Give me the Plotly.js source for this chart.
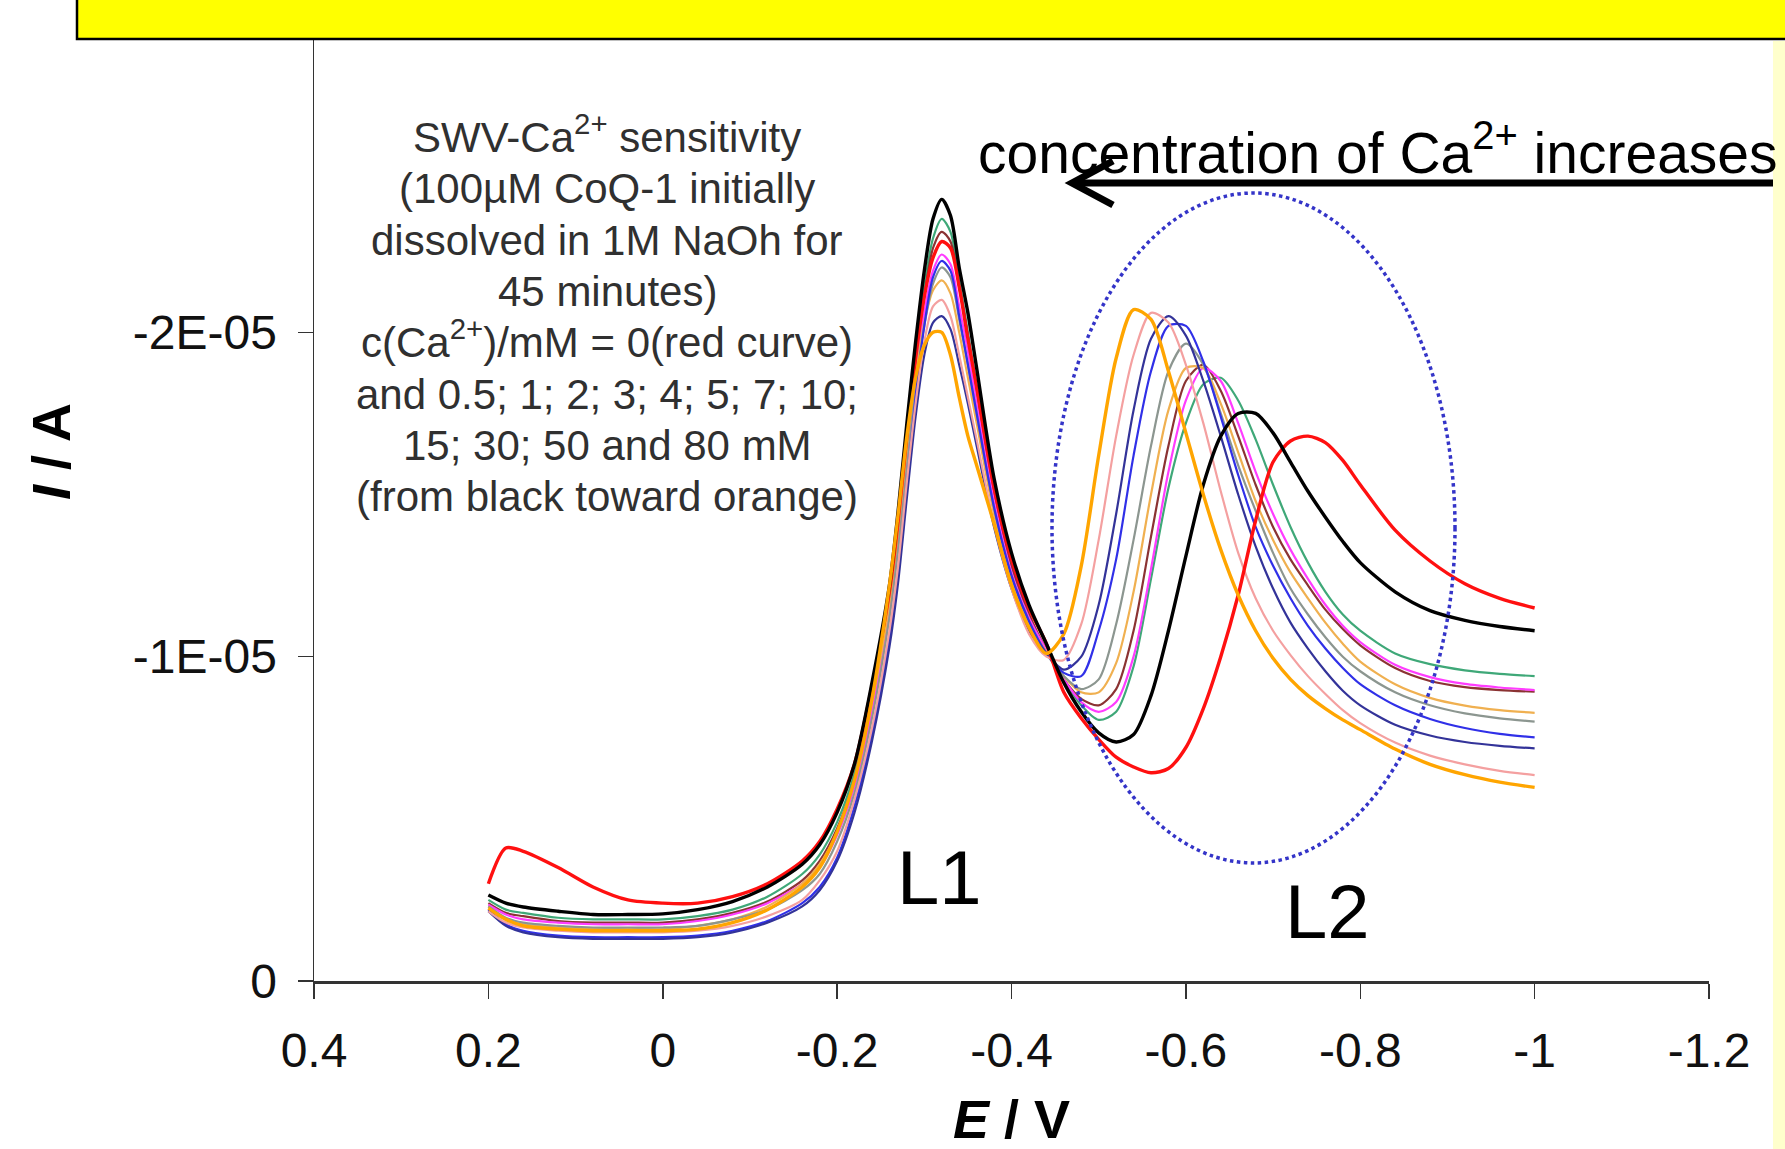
<!DOCTYPE html>
<html>
<head>
<meta charset="utf-8">
<script src="https://cdn.plot.ly/plotly-3.0.1.min.js"></script>
<style>html,body{margin:0;padding:0;background:#fff;}#chart{width:1785px;height:1149px;}</style>
</head>
<body>
<div id="chart"></div>
<script>
// ---------------- DATA (potential in V, current in units of 1E-05 A) ----------------
const potential = [0.2, 0.18, 0.16, 0.12, 0.08, 0.04, 0, -0.04, -0.08, -0.12,
  -0.16, -0.18, -0.20, -0.22, -0.24,
  -0.26, -0.27, -0.28, -0.29, -0.30, -0.31, -0.32, -0.33, -0.34, -0.35, -0.36, -0.38, -0.40, -0.42, -0.44,
  -0.46, -0.48, -0.50, -0.52, -0.54, -0.56, -0.58, -0.60, -0.62, -0.64, -0.66, -0.68, -0.70, -0.72, -0.74, -0.76, -0.78, -0.80,
  -0.84, -0.88, -0.92, -0.96, -1.0];

const currentRed = [-0.30, -0.41, -0.40, -0.35, -0.29, -0.25, -0.24, -0.24, -0.26, -0.30,
  -0.37, -0.43, -0.53, -0.67, -0.91,
  -1.20, -1.42, -1.68, -1.92, -2.11, -2.23, -2.28, -2.26, -2.14, -1.98, -1.83, -1.52, -1.30, -1.15, -1.04,
  -0.89, -0.81, -0.745, -0.69, -0.66, -0.642, -0.655, -0.72, -0.84, -1.00, -1.19, -1.42, -1.60, -1.665, -1.68, -1.66, -1.605, -1.53,
  -1.39, -1.295, -1.225, -1.18, -1.15];

const currentBlack = [-0.265, -0.24, -0.228, -0.215, -0.205, -0.205, -0.207, -0.22, -0.245, -0.29,
  -0.36, -0.42, -0.52, -0.67, -0.92,
  -1.22, -1.45, -1.72, -1.97, -2.19, -2.35, -2.41, -2.36, -2.20, -2.06, -1.89, -1.55, -1.32, -1.16, -1.04,
  -0.92, -0.83, -0.765, -0.737, -0.76, -0.88, -1.08, -1.31, -1.53, -1.68, -1.75, -1.75, -1.69, -1.60, -1.51, -1.43, -1.355, -1.29,
  -1.20, -1.142, -1.112, -1.093, -1.08];

const currentGreen = [-0.25, -0.22, -0.21, -0.195, -0.19, -0.19, -0.19, -0.20, -0.22, -0.26,
  -0.33, -0.39, -0.49, -0.64, -0.88,
  -1.18, -1.40, -1.66, -1.92, -2.14, -2.29, -2.35, -2.31, -2.16, -2.00, -1.83, -1.50, -1.28, -1.13, -1.02,
  -0.93, -0.85, -0.805, -0.83, -0.97, -1.24, -1.52, -1.72, -1.84, -1.86, -1.79, -1.67, -1.53, -1.40, -1.29, -1.20, -1.13, -1.08,
  -1.01, -0.977, -0.958, -0.947, -0.94];

const currentMaroon = [-0.24, -0.21, -0.20, -0.185, -0.18, -0.18, -0.18, -0.19, -0.21, -0.245,
  -0.31, -0.37, -0.47, -0.62, -0.86,
  -1.16, -1.38, -1.64, -1.90, -2.11, -2.26, -2.31, -2.28, -2.14, -1.99, -1.82, -1.50, -1.28, -1.13, -1.02,
  -0.93, -0.87, -0.85, -0.90, -1.08, -1.37, -1.65, -1.85, -1.90, -1.82, -1.68, -1.53, -1.40, -1.30, -1.22, -1.145, -1.085, -1.035,
  -0.965, -0.925, -0.906, -0.897, -0.892];

const currentMagenta = [-0.235, -0.205, -0.19, -0.18, -0.175, -0.175, -0.175, -0.185, -0.205, -0.24,
  -0.30, -0.35, -0.45, -0.60, -0.83,
  -1.13, -1.35, -1.61, -1.86, -2.06, -2.19, -2.24, -2.21, -2.08, -1.94, -1.78, -1.48, -1.26, -1.12, -1.02,
  -0.93, -0.86, -0.83, -0.86, -1.00, -1.27, -1.57, -1.79, -1.89, -1.85, -1.72, -1.57, -1.44, -1.33, -1.24, -1.16, -1.095, -1.045,
  -0.975, -0.937, -0.916, -0.905, -0.897];

const currentLightOrange = [-0.23, -0.19, -0.175, -0.165, -0.16, -0.16, -0.16, -0.17, -0.19, -0.23,
  -0.30, -0.36, -0.46, -0.62, -0.86,
  -1.16, -1.38, -1.63, -1.86, -2.03, -2.13, -2.16, -2.12, -2.00, -1.86, -1.72, -1.44, -1.24, -1.10, -1.015,
  -0.94, -0.89, -0.89, -0.98, -1.20, -1.50, -1.76, -1.89, -1.89, -1.78, -1.63, -1.48, -1.36, -1.26, -1.18, -1.105, -1.04, -0.985,
  -0.915, -0.873, -0.849, -0.835, -0.827];

const currentGray = [-0.23, -0.195, -0.18, -0.17, -0.165, -0.165, -0.165, -0.17, -0.19, -0.22,
  -0.28, -0.33, -0.43, -0.58, -0.81,
  -1.12, -1.33, -1.58, -1.83, -2.02, -2.15, -2.20, -2.17, -2.04, -1.90, -1.75, -1.46, -1.25, -1.11, -1.01,
  -0.94, -0.90, -0.93, -1.10, -1.36, -1.65, -1.88, -1.965, -1.90, -1.75, -1.59, -1.45, -1.32, -1.21, -1.13, -1.06, -1.00, -0.955,
  -0.89, -0.85, -0.825, -0.81, -0.80];

const currentBlue = [-0.22, -0.175, -0.155, -0.14, -0.135, -0.135, -0.135, -0.14, -0.155, -0.185,
  -0.24, -0.29, -0.38, -0.54, -0.76,
  -1.06, -1.26, -1.53, -1.80, -2.02, -2.17, -2.22, -2.19, -2.05, -1.90, -1.75, -1.46, -1.25, -1.11, -1.01,
  -0.95, -0.94, -1.08, -1.30, -1.62, -1.88, -2.02, -2.02, -1.91, -1.74, -1.56, -1.40, -1.28, -1.18, -1.095, -1.025, -0.965, -0.915,
  -0.85, -0.808, -0.78, -0.762, -0.751];

const currentNavy = [-0.215, -0.17, -0.15, -0.135, -0.13, -0.13, -0.13, -0.135, -0.15, -0.18,
  -0.23, -0.28, -0.37, -0.52, -0.74,
  -1.03, -1.23, -1.49, -1.74, -1.93, -2.03, -2.05, -2.01, -1.90, -1.78, -1.65, -1.40, -1.21, -1.08, -1.01,
  -0.96, -1.00, -1.16, -1.44, -1.76, -1.98, -2.05, -1.99, -1.85, -1.68, -1.50, -1.34, -1.21, -1.105, -1.025, -0.955, -0.895, -0.85,
  -0.79, -0.757, -0.737, -0.725, -0.717];

const currentPink = [-0.215, -0.18, -0.165, -0.155, -0.15, -0.15, -0.15, -0.155, -0.17, -0.20,
  -0.25, -0.31, -0.40, -0.56, -0.78,
  -1.08, -1.28, -1.54, -1.78, -1.97, -2.08, -2.10, -2.05, -1.93, -1.80, -1.67, -1.41, -1.21, -1.07, -1.00,
  -0.99, -1.10, -1.36, -1.68, -1.93, -2.06, -2.03, -1.90, -1.72, -1.51, -1.32, -1.18, -1.08, -1.005, -0.94, -0.885, -0.835, -0.795,
  -0.735, -0.695, -0.668, -0.648, -0.635];

const currentOrange = [-0.225, -0.19, -0.17, -0.16, -0.155, -0.155, -0.155, -0.16, -0.18, -0.22,
  -0.29, -0.35, -0.46, -0.62, -0.87,
  -1.22, -1.44, -1.68, -1.86, -1.96, -2.00, -2.00, -1.93, -1.80, -1.68, -1.59, -1.41, -1.22, -1.09, -1.01,
  -1.07, -1.28, -1.62, -1.92, -2.07, -2.04, -1.88, -1.69, -1.50, -1.33, -1.19, -1.08, -0.995, -0.93, -0.88, -0.84, -0.805, -0.775,
  -0.715, -0.668, -0.636, -0.613, -0.597];

const xTickVals = [0.4, 0.2, 0, -0.2, -0.4, -0.6, -0.8, -1.0, -1.2];
const xTickText = ['0.4', '0.2', '0', '-0.2', '-0.4', '-0.6', '-0.8', '-1', '-1.2'];
const yTickVals = [0, -1e-5, -2e-5, -3e-5];
const yTickText = ['0', '-1E-05', '-2E-05', '-3E-05'];

const noteLines = [
  'SWV-Ca<sup>2+</sup> sensitivity',
  '(100µM CoQ-1 initially',
  'dissolved in 1M NaOh for',
  '45 minutes)',
  'c(Ca<sup>2+</sup>)/mM = 0(red curve)',
  'and 0.5; 1; 2; 3; 4; 5; 7; 10;',
  '15; 30; 50 and 80 mM',
  '(from black toward orange)'
];
const arrowLabel = 'concentration of Ca<sup>2+</sup> increases';
const peakLabels = ['L1', 'L2'];
const xTitle = '<b><i>E</i> / V</b>';
const yTitle = '<b><i>I</i> / A</b>';

// ---------------- STYLE / LAYOUT ----------------
const UNIT = 1e-5;
const FONT = 'Arial, "Liberation Sans", sans-serif';
const W = 1785, H = 1149;
const PL = 314, PR = 1709, PT = 8, PB = 981;
const px = x => (x - PL) / (PR - PL);
const py = y => (PB - y) / (PB - PT);

const series = [
  {y: currentGreen, color: '#3FA878', width: 2.2},
  {y: currentMaroon, color: '#8B3333', width: 2.2},
  {y: currentMagenta, color: '#FF3CFF', width: 2.2},
  {y: currentLightOrange, color: '#F0B050', width: 2.2},
  {y: currentGray, color: '#8C9690', width: 2.2},
  {y: currentBlue, color: '#3030E8', width: 2.2},
  {y: currentNavy, color: '#333399', width: 2.2},
  {y: currentPink, color: '#F4A0A0', width: 2.2},
  {y: currentRed, color: '#FF1010', width: 3.4},
  {y: currentBlack, color: '#000000', width: 3.4},
  {y: currentOrange, color: '#FFA500', width: 3.4}
];

const traces = series.map(s => ({
  type: 'scatter', mode: 'lines',
  x: potential, y: s.y.map(v => v * UNIT),
  line: {color: s.color, width: s.width, shape: 'spline', smoothing: 0.8},
  hoverinfo: 'skip', showlegend: false
}));

const annotations = [];
noteLines.forEach((t, i) => {
  annotations.push({xref: 'paper', yref: 'paper', x: px(607), y: py(136 + i * 51.3 + 27),
    xanchor: 'center', yanchor: 'bottom', showarrow: false, text: t,
    font: {family: FONT, size: 42, color: '#303030'}});
});
annotations.push({xref: 'paper', yref: 'paper', x: px(976), y: py(149), xanchor: 'left', yanchor: 'middle',
  showarrow: false, text: arrowLabel, font: {family: FONT, size: 57, color: '#000'}});
annotations.push({xref: 'paper', yref: 'paper', x: px(939), y: py(877), xanchor: 'center', yanchor: 'middle',
  showarrow: false, text: peakLabels[0], font: {family: FONT, size: 76, color: '#000'}});
annotations.push({xref: 'paper', yref: 'paper', x: px(1327), y: py(911), xanchor: 'center', yanchor: 'middle',
  showarrow: false, text: peakLabels[1], font: {family: FONT, size: 76, color: '#000'}});
annotations.push({xref: 'paper', yref: 'paper', x: px(51), y: py(452), xanchor: 'center', yanchor: 'middle',
  showarrow: false, text: yTitle, textangle: -90, font: {family: FONT, size: 54, color: '#000'}});

// arrow (shaft + open chevron head) drawn in pixel-derived paper coordinates
const arrowY = 183;
const shapes = [
  {type: 'circle', xref: 'paper', yref: 'paper', x0: px(1052), x1: px(1455), y0: py(863), y1: py(193),
    line: {color: '#3434C8', width: 3.5, dash: 'dot'}, layer: 'above'},
  {type: 'line', xref: 'paper', yref: 'paper', x0: px(1074), x1: px(1790), y0: py(arrowY), y1: py(arrowY),
    line: {color: '#000', width: 7}, layer: 'above'},
  {type: 'path', xref: 'paper', yref: 'paper',
    path: 'M' + px(1113) + ',' + py(arrowY - 22) + ' L' + px(1072) + ',' + py(arrowY) + ' L' + px(1113) + ',' + py(arrowY + 22),
    line: {color: '#000', width: 7}, layer: 'above'},
  {type: 'rect', xref: 'paper', yref: 'paper', x0: px(77), x1: px(1820), y0: py(39), y1: py(-30),
    fillcolor: '#FFFF00', line: {color: '#000', width: 2.5}, layer: 'above'},
  {type: 'rect', xref: 'paper', yref: 'paper', x0: px(1773), x1: px(1820), y0: py(1180), y1: py(41),
    fillcolor: '#FFFFCC', line: {width: 0}, layer: 'above'}
];

const layout = {
  width: W, height: H,
  margin: {l: PL, r: W - PR, t: PT, b: H - PB, pad: 0},
  paper_bgcolor: '#fff', plot_bgcolor: '#fff',
  showlegend: false,
  font: {family: FONT, color: '#111'},
  xaxis: {range: [0.4, -1.2], tickvals: xTickVals, ticktext: xTickText,
    showgrid: false, zeroline: false, showline: true, linecolor: '#333', linewidth: 2.5,
    ticks: 'outside', ticklen: 15, tickwidth: 1.5, tickcolor: '#333',
    tickfont: {family: FONT, size: 48, color: '#111'}, ticklabelstandoff: 11,
    title: {text: xTitle, font: {family: FONT, size: 54, color: '#000'}, standoff: 40},
    automargin: false, fixedrange: true},
  yaxis: {range: [0, -3e-5], tickvals: yTickVals, ticktext: yTickText,
    showgrid: false, zeroline: false, showline: true, linecolor: '#333', linewidth: 1.5,
    ticks: 'outside', ticklen: 15, tickwidth: 1.5, tickcolor: '#333',
    tickfont: {family: FONT, size: 48, color: '#111'}, ticklabelstandoff: 11,
    automargin: false, fixedrange: true},
  annotations: annotations,
  shapes: shapes
};

Plotly.newPlot('chart', traces, layout, {staticPlot: true, displayModeBar: false});
</script>
</body>
</html>
